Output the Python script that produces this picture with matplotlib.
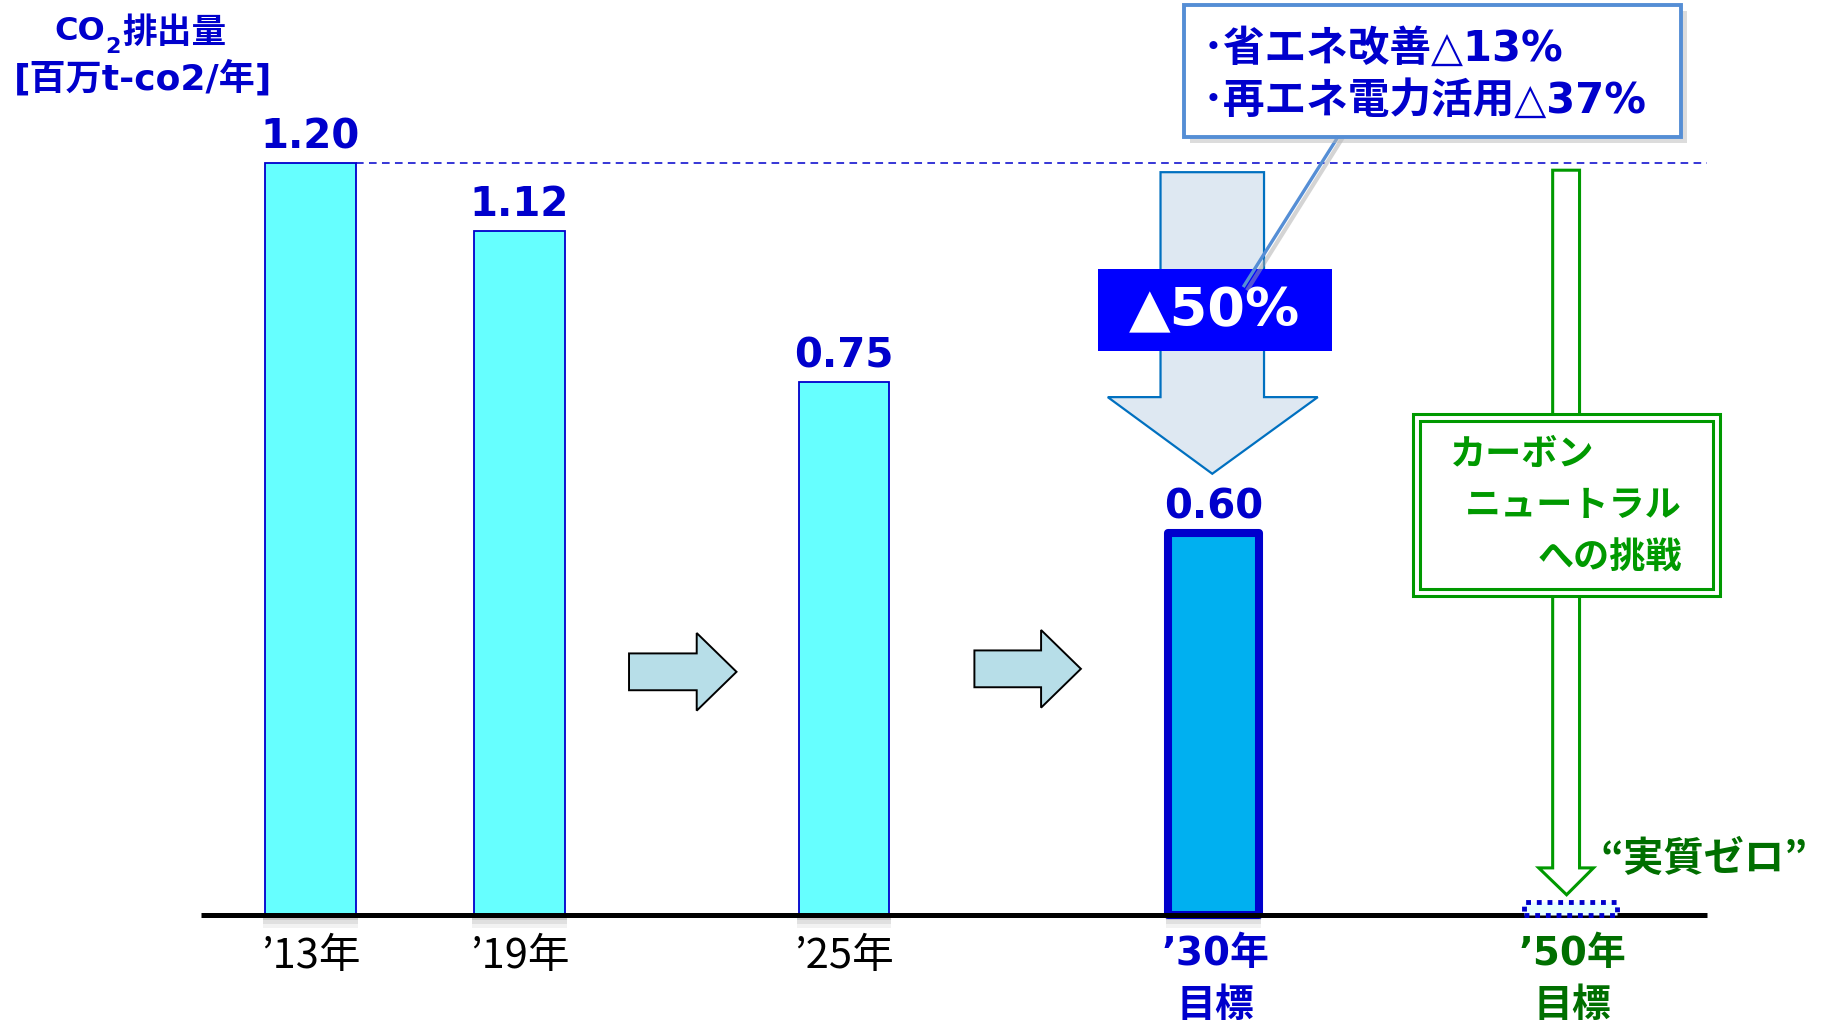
import matplotlib
matplotlib.use("Agg")
import matplotlib.pyplot as plt
from matplotlib.patches import Polygon, Rectangle
from matplotlib.transforms import Affine2D

plt.rcParams['font.family'] = ['DejaVu Sans', 'Noto Sans CJK JP']

############### DATA ###############
years = ["’13年", "’19年", "’25年", "’30年\n目標", "’50年\n目標"]
# bar heights as drawn in the picture (units of the 1.20 reference bar)
bar_heights = [1.20, 1.092, 0.850, 0.609, 0.02]
value_labels = ["1.20", "1.12", "0.75", "0.60"]
callout_lines = ["･省エネ改善△13%", "･再エネ電力活用△37%"]
cut_label = "▲50%"
cn_lines = ["カーボン", "ニュートラル", "への挑戦"]
zero_label = "“実質ゼロ”"
ylabel_title = ["CO", "2", "排出量"]
ylabel_unit = "[百万t-co2/年]"
####################################

W, H = 1826, 1030
S = 0.9953                       # layout units -> output pixels
xpos = [312, 522, 848, 1219, 1578]
y0_px, unit_px = 919, 629.17

BLUE = '#0000CC'
GREEN = '#009900'
DGREEN = '#006F00'
JP = 'Noto Sans CJK JP'
MIX = ['DejaVu Sans', 'Noto Sans CJK JP']

fig = plt.figure(figsize=(W / 100, H / 100), dpi=100)
ax = fig.add_axes([0, 0, 1, 1])
ax.set_xlim(0, W / S)
ax.set_ylim(-(H / S - y0_px) / unit_px, y0_px / unit_px)
ax.axis('off')

# layout units (origin top-left) -> figure
px = Affine2D().scale(S / W, -S / H).translate(0, 1) + fig.transFigure

######################## bars ########################
# soft shadows under the bars
for k, a in [(0.022, 0.05), (0.015, 0.07), (0.009, 0.09)]:
    ax.bar(xpos[:4], -k, width=95, color='black', alpha=a, lw=0, zorder=1)

ax.bar(xpos[:3], bar_heights[:3], width=91, color='#66FFFF',
       edgecolor=BLUE, linewidth=1.3, zorder=2)
ax.bar(xpos[3], bar_heights[3], width=91, color='#00B0F0',
       edgecolor=BLUE, linewidth=5.8, joinstyle='round', zorder=2)
ax.bar(xpos[4], bar_heights[4], width=94, color='#E8FFFF',
       edgecolor=BLUE, linewidth=3.5, linestyle=(0, (1, 1.2)), zorder=4)

ax.plot([202, 1715], [0, 0], color='black', lw=3.6, zorder=3,
        solid_capstyle='butt')
ax.plot([358, 1715], [bar_heights[0], bar_heights[0]], color=BLUE, lw=1.1,
        ls=(0, (5, 3.5)), zorder=1)

for i in range(4):
    ax.annotate(value_labels[i], (xpos[i], bar_heights[i]), xytext=(0, 15),
                textcoords='offset pixels', ha='center', va='baseline',
                fontsize=29, fontweight='bold', color=BLUE, zorder=5)

# year labels
for i, lab in enumerate(years):
    lines = lab.split('\n')
    if len(lines) == 1:
        ax.text(xpos[i], 961, lines[0], transform=px, ha='center', va='center',
                fontsize=30, color='black', family=JP)
    else:
        col = BLUE if i == 3 else DGREEN
        for j, ln in enumerate(lines):
            ax.text(xpos[i] + 2, 959 + 52 * j, ln, transform=px, ha='center',
                    va='center', fontsize=28, fontweight='bold', color=col,
                    family=MIX)

# y label
ax.text(106, 40, ylabel_title[0], transform=px, ha='right', va='baseline',
        fontsize=23, fontweight='bold', color=BLUE)
ax.text(106, 53, ylabel_title[1], transform=px, ha='left', va='baseline',
        fontsize=16, fontweight='bold', color=BLUE)
ax.text(123, 33, ylabel_title[2], transform=px, ha='left', va='center',
        fontsize=25, fontweight='bold', color=BLUE, family=JP)
ax.text(144, 79, ylabel_unit, transform=px, ha='center', va='center',
        fontsize=26, fontweight='bold', color=BLUE, family=MIX)

######################## right arrows ########################
def right_arrow(x0, x1, xh, yc, hs, hh):
    pts = [(x0, yc - hs), (xh, yc - hs), (xh, yc - hh), (x1, yc),
           (xh, yc + hh), (xh, yc + hs), (x0, yc + hs)]
    ax.add_patch(Polygon(pts, closed=True, transform=px, facecolor='#B7DEE8',
                         edgecolor='black', lw=1.4, zorder=3))

right_arrow(632, 740, 700, 675, 18.5, 39)
right_arrow(979, 1086, 1046, 672, 18.5, 39)

######################## down arrow + 50% ########################
down = [(1166, 173), (1270, 173), (1270, 399), (1324, 399), (1218, 476),
        (1113, 399), (1166, 399)]
ax.add_patch(Polygon(down, closed=True, transform=px, facecolor='#DEE8F2',
                     edgecolor='#0070C0', lw=1.6, zorder=3))
ax.add_patch(Rectangle((1103, 270), 235, 83, transform=px,
                       facecolor='#0000FF', edgecolor='none', zorder=4))
ax.text(1220, 313, cut_label, transform=px, ha='center', va='center',
        fontsize=39, fontweight='bold', color='white', zorder=6)

######################## callout ########################
ax.plot([1348, 1254], [140, 290], transform=px, color='#AAAAAA', lw=3,
        alpha=0.5, zorder=4)
ax.plot([1344, 1250], [138, 287], transform=px, color='#558ED5', lw=2.4,
        zorder=5)
ax.add_patch(Rectangle((1196, 11), 499, 133, transform=px,
                       facecolor='#BBBBBB', edgecolor='none', alpha=0.5,
                       zorder=5))
ax.add_patch(Rectangle((1190, 5), 499, 133, transform=px, facecolor='white',
                       edgecolor='#558ED5', lw=2.8, zorder=6))
for j, ln in enumerate(callout_lines):
    ax.text(1208, 49 + 52 * j, ln, transform=px, ha='left', va='center',
            fontsize=30, fontweight='bold', color=BLUE, family=MIX, zorder=7)

######################## carbon neutral ########################
garrow = [(1560, 171), (1587, 171), (1587, 872), (1601, 872), (1574, 899),
          (1546, 872), (1560, 872)]
ax.add_patch(Polygon(garrow, closed=True, transform=px, facecolor='white',
                     edgecolor=GREEN, lw=2.2, zorder=3))
ax.add_patch(Rectangle((1420, 416), 308, 183, transform=px, facecolor='white',
                       edgecolor=GREEN, lw=2.2, zorder=4))
ax.add_patch(Rectangle((1427, 423), 294, 169, transform=px, facecolor='none',
                       edgecolor=GREEN, lw=2.2, zorder=4))
ax.text(1457, 457, cn_lines[0], transform=px, ha='left', va='center',
        fontsize=26, fontweight='bold', color=GREEN, family=JP, zorder=5)
ax.text(1690, 508, cn_lines[1], transform=px, ha='right', va='center',
        fontsize=26, fontweight='bold', color=GREEN, family=JP, zorder=5)
ax.text(1690, 560, cn_lines[2], transform=px, ha='right', va='center',
        fontsize=26, fontweight='bold', color=GREEN, family=JP, zorder=5)

ax.text(1712, 864, zero_label, transform=px, ha='center', va='center',
        fontsize=29, fontweight='bold', color=DGREEN, family=JP, zorder=5)

plt.savefig("out.png", dpi=100)
